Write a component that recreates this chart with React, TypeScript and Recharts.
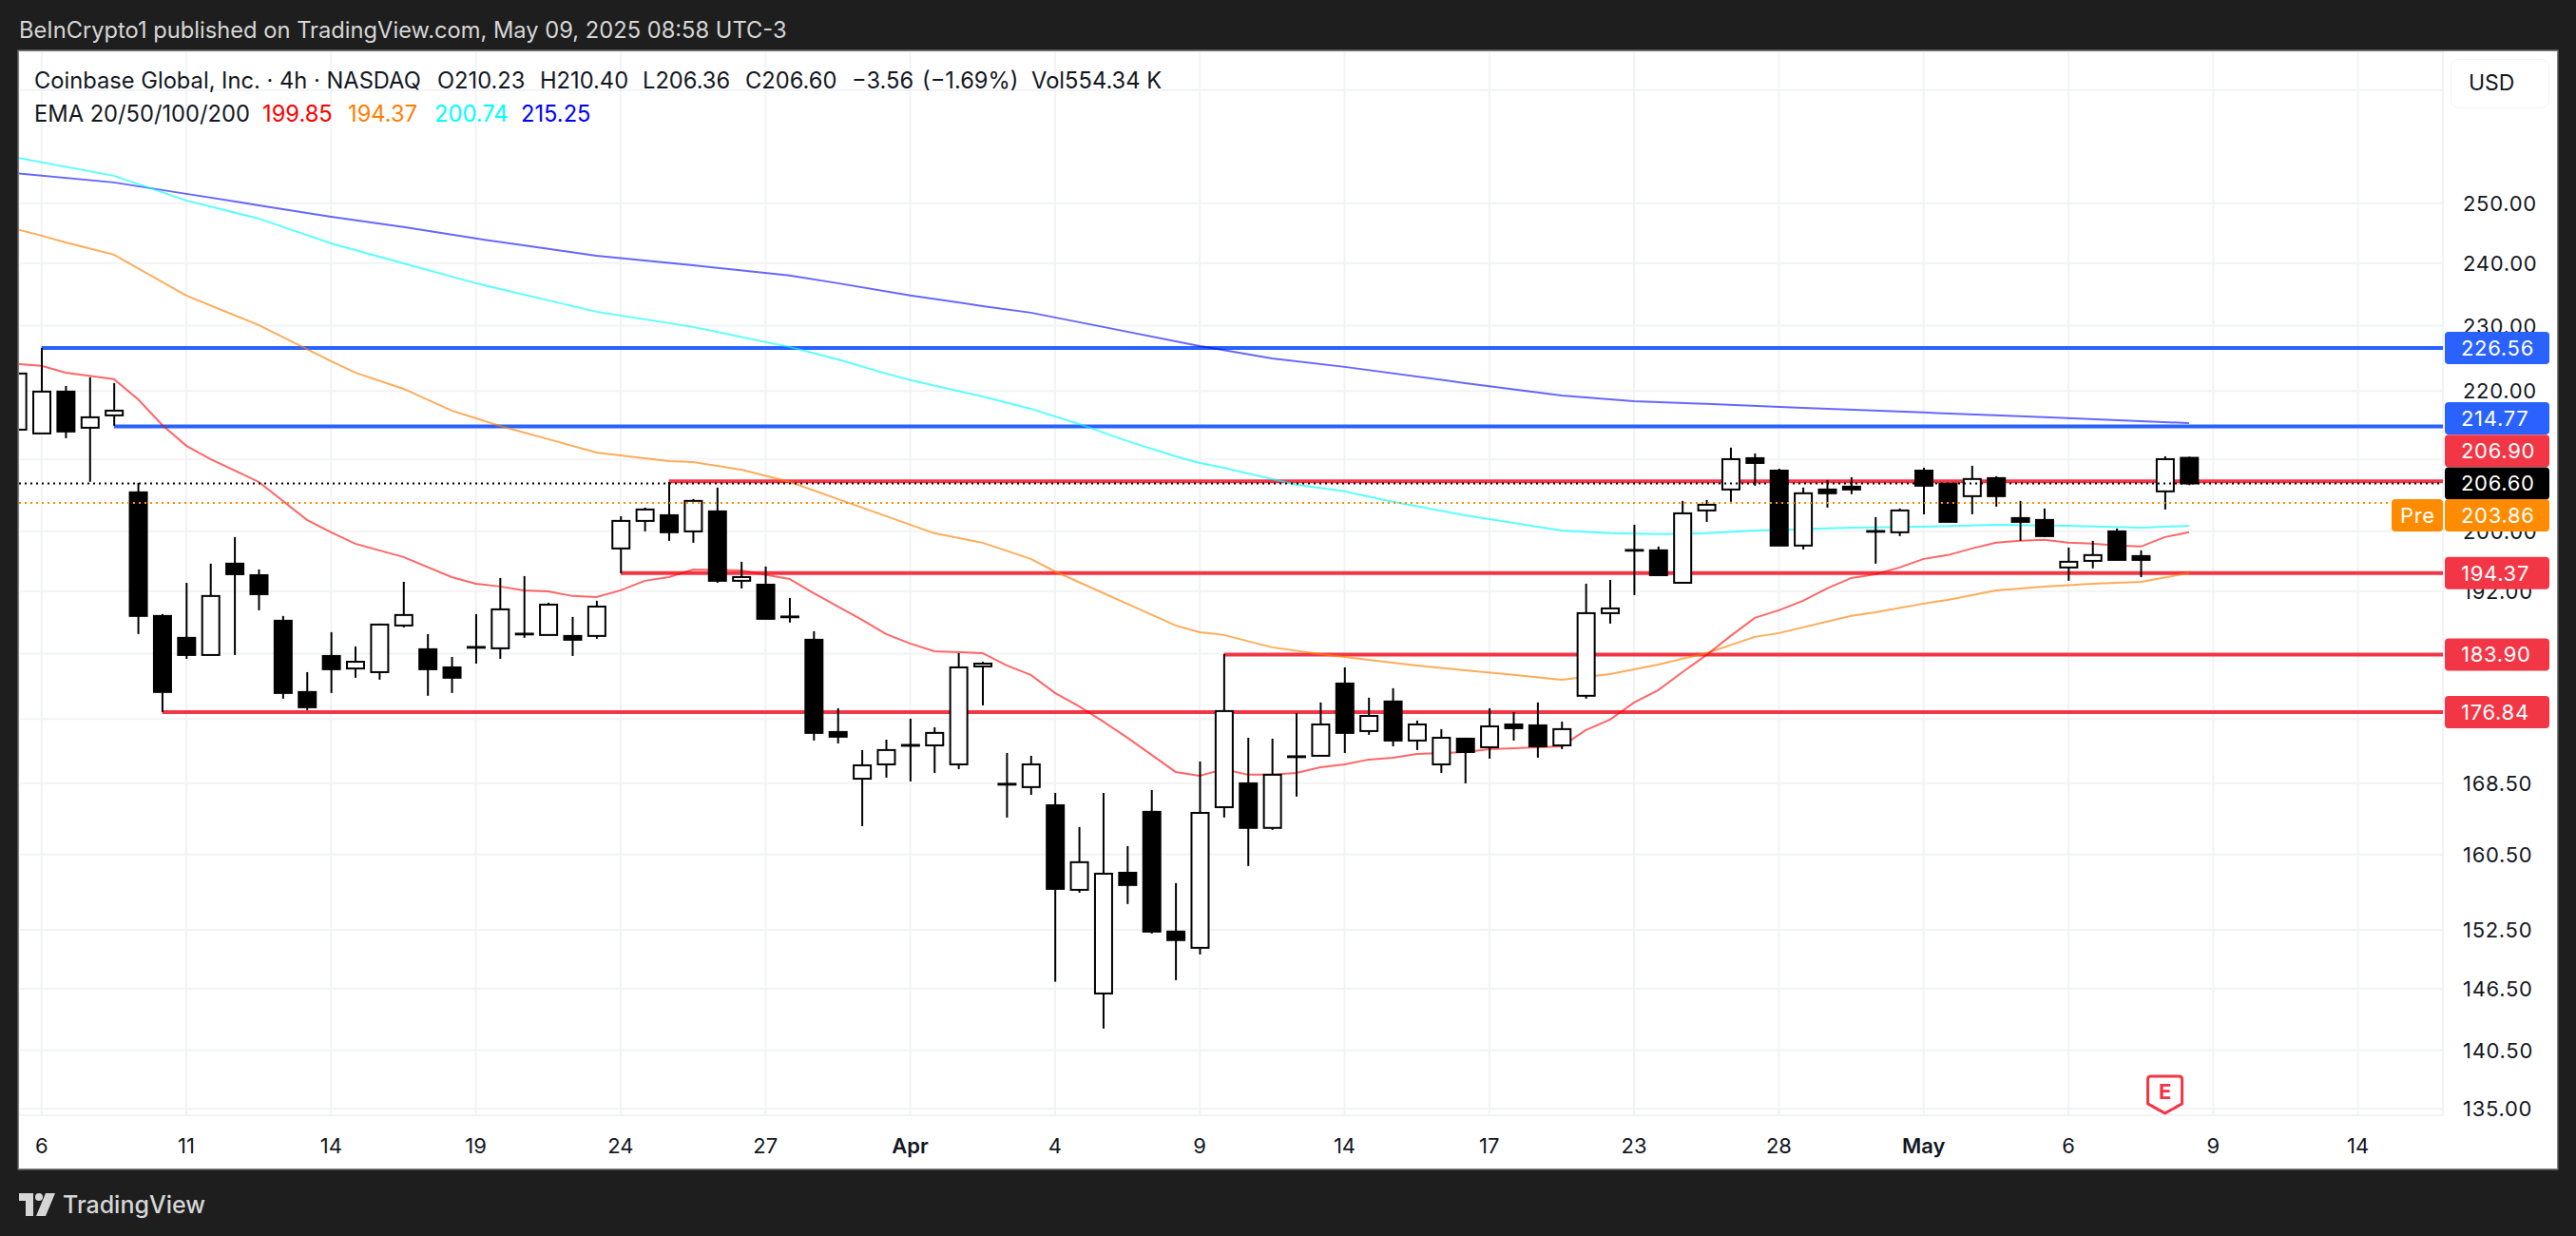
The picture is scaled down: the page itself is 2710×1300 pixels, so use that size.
// Coinbase 4h candles with EMA ribbons and hand drawn levels
import React from 'react';
import {
  ComposedChart,
  Bar,
  Line,
  XAxis,
  YAxis,
  CartesianGrid,
  ReferenceLine,
  ReferenceDot,
} from 'recharts';

const opens = [214.3, 213.75, 219.92, 214.58, 216.39, 205.35, 188.79, 186.0, 183.84, 195.63, 194.1, 188.18, 179.27, 183.72, 182.16, 181.71, 187.57, 184.56, 182.3, 184.85, 184.68, 186.53, 186.36, 186.24, 186.24, 197.66, 201.4, 202.18, 199.97, 202.71, 193.36, 192.85, 188.72, 185.76, 174.46, 169.0, 170.66, 172.93, 172.88, 170.66, 182.42, 168.42, 168.04, 165.98, 156.7, 146.03, 158.53, 165.24, 152.31, 150.64, 165.76, 168.47, 163.44, 171.6, 171.66, 180.31, 174.57, 178.12, 173.45, 170.66, 173.67, 172.66, 175.36, 175.25, 172.88, 178.81, 189.15, 197.46, 197.41, 193.1, 202.84, 205.75, 210.18, 208.41, 198.05, 205.75, 206.15, 200.02, 199.85, 208.41, 206.55, 204.82, 207.35, 201.79, 201.53, 195.12, 196.0, 199.97, 196.64, 205.49, 210.23];
const highs = [222.64, 226.56, 220.77, 222.07, 221.2, 206.68, 189.03, 193.1, 195.63, 199.2, 194.86, 188.79, 181.71, 186.72, 184.92, 187.81, 193.23, 186.48, 183.6, 189.03, 193.73, 193.98, 190.5, 188.67, 190.75, 202.05, 203.24, 206.82, 204.42, 206.02, 195.88, 195.25, 191.12, 186.84, 177.3, 172.33, 173.55, 176.05, 175.02, 184.08, 183.0, 171.99, 171.66, 167.38, 163.54, 167.38, 161.43, 167.71, 157.42, 171.0, 183.96, 173.78, 173.67, 176.73, 178.0, 182.3, 178.58, 179.73, 175.82, 174.8, 173.78, 177.3, 176.84, 178.0, 175.7, 192.98, 193.48, 200.88, 197.92, 204.16, 204.29, 211.69, 210.86, 208.68, 206.02, 207.08, 207.48, 201.92, 203.11, 208.82, 206.55, 209.1, 207.62, 204.16, 203.11, 197.79, 198.69, 200.36, 197.41, 210.45, 210.4];
const lows = [214.3, 213.75, 213.06, 206.82, 214.85, 186.48, 176.84, 183.36, 183.84, 183.84, 189.52, 178.46, 177.08, 179.15, 181.02, 180.78, 187.33, 178.81, 179.15, 182.77, 183.36, 186.0, 186.36, 183.72, 185.88, 194.36, 199.97, 198.69, 198.43, 193.1, 192.36, 188.42, 187.94, 173.45, 173.11, 163.64, 169.13, 168.69, 169.67, 170.11, 177.65, 164.6, 167.16, 147.2, 156.39, 142.59, 155.19, 152.11, 147.36, 149.96, 164.6, 159.26, 163.23, 166.96, 171.66, 171.99, 174.13, 172.77, 172.33, 169.67, 168.47, 171.33, 173.45, 171.44, 172.44, 178.46, 187.81, 191.49, 194.1, 193.1, 201.27, 204.03, 206.28, 198.05, 197.53, 203.24, 205.09, 195.63, 199.33, 202.31, 201.27, 202.31, 203.37, 198.69, 199.2, 193.36, 195.0, 196.13, 193.85, 202.97, 206.36];
const closes = [222.64, 219.92, 214.03, 216.11, 217.09, 188.79, 179.27, 183.84, 191.37, 194.23, 191.61, 179.15, 177.42, 182.07, 183.0, 187.69, 188.91, 182.07, 181.02, 184.75, 189.64, 186.43, 190.25, 185.76, 190.0, 201.4, 202.97, 199.85, 204.16, 193.36, 193.85, 188.42, 188.62, 174.35, 173.9, 170.55, 172.33, 172.83, 174.35, 182.3, 182.77, 168.32, 170.66, 156.8, 159.67, 158.43, 157.21, 152.31, 151.43, 165.12, 176.96, 163.44, 169.46, 171.5, 175.36, 174.35, 176.38, 173.45, 175.36, 173.78, 172.1, 175.13, 174.91, 172.77, 174.8, 189.15, 189.76, 197.36, 194.1, 202.44, 203.63, 210.04, 209.5, 198.05, 205.22, 205.22, 205.75, 199.92, 202.84, 206.28, 201.27, 207.22, 204.82, 201.27, 199.33, 195.88, 196.77, 196.13, 196.13, 210.04, 206.6];

// EMA readings as [bar, price], only where the line visibly bends
const ema20: [number, number][] = [[0, 224.09], [1, 223.8], [2, 222.78], [4, 221.79], [5, 218.77], [6, 214.99], [7, 211.96], [8, 210.05], [10, 206.82], [12, 201.53], [13, 199.85], [14, 198.3], [16, 196.51], [18, 193.85], [19, 192.98], [20, 192.61], [21, 192.11], [22, 191.98], [23, 191.37], [24, 191.24], [25, 192.11], [26, 193.36], [27, 193.85], [28, 194.86], [30, 194.73], [32, 193.6], [33, 191.74], [35, 188.3], [36, 186.48], [37, 185.28], [38, 184.32], [40, 184.08], [41, 182.54], [42, 181.37], [43, 179.15], [44, 177.53], [45, 175.7], [46, 173.78], [47, 171.77], [48, 169.78], [49, 169.34], [50, 170.11], [51, 169.46], [52, 169.46], [53, 169.67], [54, 170.33], [55, 170.66], [56, 171.22], [57, 171.44], [58, 171.88], [59, 171.99], [60, 172.1], [61, 172.44], [62, 172.55], [63, 172.66], [64, 172.77], [65, 174.68], [66, 175.93], [67, 178.0], [68, 179.5], [69, 181.71], [70, 183.84], [71, 186.24], [72, 188.54], [73, 189.52], [74, 190.75], [75, 192.36], [76, 193.73], [77, 194.23], [78, 195.12], [79, 196.26], [80, 196.77], [81, 197.66], [82, 198.43], [83, 198.69], [84, 198.82], [85, 198.43], [86, 198.3], [87, 198.05], [88, 197.92], [89, 199.2], [90, 199.85]];
const ema50: [number, number][] = [[0, 245.56], [1, 244.53], [2, 243.42], [4, 241.39], [7, 234.77], [10, 230.1], [13, 224.52], [14, 222.78], [16, 220.34], [18, 217.09], [20, 214.85], [22, 212.92], [24, 211.0], [27, 209.77], [28, 209.64], [30, 208.54], [32, 206.82], [35, 203.24], [38, 199.72], [40, 198.43], [42, 196.26], [43, 194.6], [48, 187.57], [49, 186.72], [50, 186.36], [52, 184.8], [54, 183.96], [56, 183.24], [58, 182.54], [60, 181.95], [62, 181.37], [64, 180.78], [66, 181.48], [68, 182.65], [70, 184.08], [72, 186.12], [73, 186.6], [76, 188.79], [77, 189.27], [79, 190.38], [80, 190.87], [82, 192.11], [84, 192.61], [86, 192.98], [88, 193.23], [90, 194.37]];
const ema100: [number, number][] = [[0, 257.85], [4, 254.7], [7, 250.45], [10, 247.39], [13, 243.26], [16, 239.98], [19, 236.75], [22, 234.01], [24, 232.2], [28, 229.81], [32, 226.71], [34, 224.8], [36, 222.64], [37, 221.64], [40, 219.2], [42, 217.37], [44, 215.13], [46, 212.64], [48, 210.45], [49, 209.5], [50, 208.82], [53, 206.42], [55, 205.49], [57, 204.03], [60, 202.18], [64, 200.09], [66, 199.72], [68, 199.59], [70, 199.72], [72, 200.09], [76, 200.48], [79, 200.6], [82, 200.88], [85, 200.74], [88, 200.48], [90, 200.74]];
const ema200: [number, number][] = [[0, 255.11], [4, 253.55], [7, 251.59], [10, 249.64], [13, 247.71], [16, 245.96], [19, 244.06], [24, 241.23], [28, 239.67], [32, 237.98], [34, 236.75], [37, 234.77], [40, 233.1], [42, 232.05], [45, 229.81], [49, 226.85], [52, 224.95], [55, 223.65], [60, 221.2], [64, 219.35], [67, 218.5], [70, 218.09], [74, 217.51], [79, 216.82], [84, 216.13], [88, 215.55], [90, 215.25]];

const priceTicks = [270, 250, 240, 230, 220, 210, 200, 192, 184, 176, 168.5, 160.5, 152.5, 146.5, 140.5, 135];
const timeTickBars = [1, 7, 13, 19, 25, 31, 37, 43, 49, 55, 61, 67, 73, 79, 85, 91, 97];
const timeTickLabels = ['6', '11', '14', '19', '24', '27', 'Apr', '4', '9', '14', '17', '23', '28', 'May', '6', '9', '14'];

const blueLevels: [number, number][] = [[226.56, 1], [214.77, 4]];
const redLevels: [number, number][] = [[206.9, 27], [194.37, 25], [183.9, 50], [176.84, 6]];
const lastPrice = 206.6;
const prePrice = 203.86;
const earningsBar = 89;
const earningsPrice = 134.6;
const badgePrices = [226.56, 214.77, 206.9, 206.6, 203.86, 194.37, 183.9, 176.84];

const BAR_MIN = 0.066;
const BAR_MAX = 100.52;
const PRICE_MIN = 134.42;
const PRICE_MAX = 277.2;
const PRE_LINE_END = 98.27;

const BLUE = '#2962ff';
const RED = '#f23645';
const ORANGE = '#ff8c00';
const INK = '#131722';
const FONT = 'Inter, "Noto Sans", sans-serif';

// badge look, crowded ones get pushed off their price like on the real scale
function badgeTone(price: number) {
  if (price === lastPrice) return '#000';
  if (price === prePrice) return ORANGE;
  return blueLevels.some((l) => l[0] === price) ? BLUE : RED;
}
const BADGE_NUDGE: Record<number, number> = { 214.77: -8.5, 206.9: -32, 203.86: 13 };

function emaAt(list: [number, number][], bar: number) {
  const hit = list.find((p) => p[0] === bar);
  return hit ? hit[1] : undefined;
}

const rows = opens.map((o, i) => ({
  i,
  open: o,
  high: highs[i],
  low: lows[i],
  close: closes[i],
  range: [lows[i], highs[i]],
  ema20: emaAt(ema20, i),
  ema50: emaAt(ema50, i),
  ema100: emaAt(ema100, i),
  ema200: emaAt(ema200, i),
}));

// the bar rectangle spans low..high, the body is placed inside it on the log scale
function Candle(props: any) {
  const { x, y, width, height, payload } = props;
  const { open, high, low, close } = payload;
  const span = Math.log(high) - Math.log(low);
  const yOf = (v: number) => y + (height * (Math.log(high) - Math.log(v))) / span;
  const top = yOf(Math.max(open, close));
  const bottom = yOf(Math.min(open, close));
  const mid = x + width / 2;
  const up = close >= open;
  return (
    <g>
      <line x1={mid} x2={mid} y1={y} y2={y + height} stroke="#000" strokeWidth={2} />
      <rect
        x={x + 1}
        y={top}
        width={width - 2}
        height={Math.max(bottom - top, 0.5)}
        fill={up ? '#fff' : '#000'}
        stroke="#000"
        strokeWidth={2}
      />
    </g>
  );
}

function PriceTick({ x, y, payload }: any) {
  return (
    <text x={x + 19} y={y} dy="0.36em" fill={INK} fontFamily={FONT} fontSize={22} letterSpacing={0.7}>
      {payload.value.toFixed(2)}
    </text>
  );
}

function TimeTick({ x, y, payload }: any) {
  const label = timeTickLabels[timeTickBars.indexOf(payload.value)];
  const bold = label === 'Apr' || label === 'May';
  return (
    <text x={x} y={y + 30} dy="0.36em" textAnchor="middle" fill={INK} fontFamily={FONT} fontSize={22} fontWeight={bold ? 600 : 400}>
      {label}
    </text>
  );
}

// drawn as ticks of a second axis, axes are the only thing painted over the first axis labels
function BadgeTick({ y, payload }: any) {
  const price = payload.value;
  const tone = badgeTone(price);
  const cy = y + (BADGE_NUDGE[price] || 0);
  const edge = 2550;
  return (
    <g fontFamily={FONT} fontSize={22} letterSpacing={0.7}>
      {price === prePrice && <rect x={edge - 54} y={cy - 17} width={54} height={34} rx={4} fill={tone} />}
      {price === prePrice && <text x={edge - 45} y={cy} dy="0.36em" fill="#fff">Pre</text>}
      <rect x={edge + 2} y={cy - 17} width={110} height={34} rx={4} fill={tone} />
      <text x={edge + 19} y={cy} dy="0.36em" fill="#fff">{price.toFixed(2)}</text>
    </g>
  );
}

function EarningsFlag({ cx, cy }: any) {
  const l = cx - 18;
  const r = cx + 18;
  const t = cy - 39;
  const s = cy - 10;
  return (
    <g>
      <path
        d={`M${l + 3} ${t} H${r - 3} Q${r} ${t} ${r} ${t + 3} V${s} L${cx} ${cy} L${l} ${s} V${t + 3} Q${l} ${t} ${l + 3} ${t} Z`}
        fill="#fff"
        stroke={RED}
        strokeWidth={3}
        strokeLinejoin="round"
      />
      <text x={cx} y={cy - 23} dy="0.36em" textAnchor="middle" fill={RED} fontFamily={FONT} fontSize={22} fontWeight={700}>
        E
      </text>
    </g>
  );
}

function Label({ left, top, color = INK, size = 23.7, children, weight = 400 }: any) {
  return (
    <div
      style={{
        position: 'absolute',
        left,
        top,
        transform: 'translateY(-50%)',
        color,
        fontSize: size,
        fontWeight: weight,
        fontFamily: FONT,
        whiteSpace: 'nowrap',
        lineHeight: 1,
      }}
    >
      {children}
    </div>
  );
}

export default function App() {
  return (
    <div style={{ position: 'absolute', left: 0, top: 0, width: 2710, height: 1300, background: '#1e1e1e', overflow: 'hidden' }}>
      <Label left={20} top={32} color="#d6d6d6">
        BeInCrypto1 published on TradingView.com, May 09, 2025 08:58 UTC-3
      </Label>

      <div style={{ position: 'absolute', left: 20, top: 54, width: 2670, height: 1175, background: '#fff', boxShadow: '0 0 0 1.5px #808080' }}>
        <ComposedChart
          width={2670}
          height={1175}
          data={rows}
          margin={{ top: 0, right: 0, bottom: 0, left: 0 }}
        >
          <CartesianGrid stroke="#f2f3f5" strokeWidth={2} />
          <XAxis
            type="number"
            dataKey="i"
            domain={[BAR_MIN, BAR_MAX]}
            allowDataOverflow
            ticks={timeTickBars}
            interval={0}
            height={56}
            axisLine={false}
            tickLine={false}
            tickSize={0}
            tick={<TimeTick />}
          />
          <YAxis
            orientation="right"
            type="number"
            scale="log"
            domain={[PRICE_MIN, PRICE_MAX]}
            allowDataOverflow
            ticks={priceTicks}
            interval={0}
            width={120}
            axisLine={false}
            tickLine={false}
            tickSize={0}
            tick={<PriceTick />}
          />
          <YAxis
            yAxisId="badges"
            orientation="right"
            mirror
            type="number"
            scale="log"
            domain={[PRICE_MIN, PRICE_MAX]}
            allowDataOverflow
            ticks={badgePrices}
            interval={0}
            axisLine={false}
            tickLine={false}
            tickSize={0}
            tick={<BadgeTick />}
          />

          {blueLevels.map(([price, from]) => (
            <ReferenceLine
              key={price}
              segment={[{ x: from, y: price }, { x: BAR_MAX, y: price }]}
              stroke={BLUE}
              strokeWidth={4}
              zIndex={100}
            />
          ))}
          {redLevels.map(([price, from]) => (
            <ReferenceLine
              key={price}
              segment={[{ x: from, y: price }, { x: BAR_MAX, y: price }]}
              stroke={RED}
              strokeWidth={4}
              zIndex={100}
            />
          ))}

          <Line dataKey="ema200" stroke="rgba(0,0,255,0.6)" strokeWidth={2} dot={false} connectNulls isAnimationActive={false} zIndex={200} />
          <Line dataKey="ema100" stroke="rgba(0,255,255,0.65)" strokeWidth={2} dot={false} connectNulls isAnimationActive={false} zIndex={200} />
          <Line dataKey="ema50" stroke="rgba(255,127,0,0.65)" strokeWidth={2} dot={false} connectNulls isAnimationActive={false} zIndex={200} />
          <Line dataKey="ema20" stroke="rgba(255,0,0,0.6)" strokeWidth={2} dot={false} connectNulls isAnimationActive={false} zIndex={200} />

          <Bar dataKey="range" barSize={20} shape={<Candle />} isAnimationActive={false} zIndex={300} />

          <ReferenceLine
            segment={[{ x: BAR_MIN, y: lastPrice }, { x: BAR_MAX, y: lastPrice }]}
            stroke="#000"
            strokeWidth={2}
            strokeDasharray="2 4"
            zIndex={350}
          />
          <ReferenceLine
            segment={[{ x: BAR_MIN, y: prePrice }, { x: PRE_LINE_END, y: prePrice }]}
            stroke={ORANGE}
            strokeWidth={2}
            strokeDasharray="2 4"
            zIndex={350}
          />

          <ReferenceDot x={earningsBar} y={earningsPrice} shape={<EarningsFlag />} zIndex={360} />
        </ComposedChart>
      </div>

      <Label left={36} top={85}>Coinbase Global, Inc. · 4h · NASDAQ</Label>
      <Label left={460} top={85}>O210.23</Label>
      <Label left={568} top={85}>H210.40</Label>
      <Label left={676} top={85}>L206.36</Label>
      <Label left={784} top={85}>C206.60</Label>
      <Label left={896} top={85}>−3.56</Label>
      <Label left={970} top={85}>(−1.69%)</Label>
      <Label left={1085} top={85}>Vol554.34 K</Label>

      <Label left={36} top={120}>EMA 20/50/100/200</Label>
      <Label left={276} top={120} color="#ff0000">199.85</Label>
      <Label left={366} top={120} color="#ff7f00">194.37</Label>
      <Label left={457} top={120} color="#00ffff">200.74</Label>
      <Label left={548} top={120} color="#0000ff">215.25</Label>

      <div style={{ position: 'absolute', left: 2578, top: 62, width: 104, height: 52, background: '#fff', border: '1.5px solid #f0f3fa', borderRadius: 9, boxSizing: 'border-box' }} />
      <Label left={2597} top={87} size={23}>USD</Label>

      <svg style={{ position: 'absolute', left: 20, top: 1255 }} width={38} height={24} viewBox="0 0 38 24">
        <path d="M0 0 H15 V24 H7 V8 H0 Z" fill="#d6d6d6" />
        <circle cx={21} cy={4} r={4} fill="#d6d6d6" />
        <path d="M28 0 H38 L28 24 H18 Z" fill="#d6d6d6" />
      </svg>
      <Label left={66} top={1267} color="#d6d6d6" size={25} weight={500}>TradingView</Label>
    </div>
  );
}
